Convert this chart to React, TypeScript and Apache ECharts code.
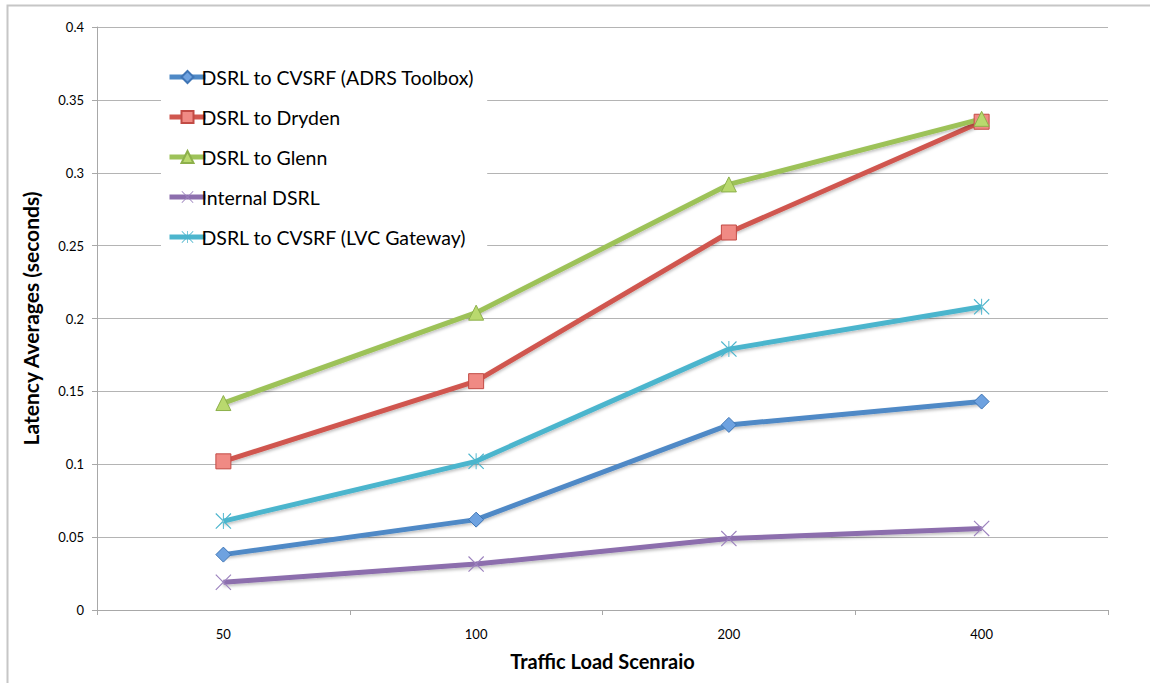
import React, { useEffect, useRef } from "react";
import * as echarts from "echarts";

const categories = ["50", "100", "200", "400"];
const seriesNames = [
  "DSRL to CVSRF (ADRS Toolbox)",
  "DSRL to Dryden",
  "DSRL to Glenn",
  "Internal DSRL",
  "DSRL to CVSRF (LVC Gateway)",
];
const adrsToolbox = [0.038, 0.062, 0.127, 0.143];
const dryden = [0.102, 0.157, 0.259, 0.335];
const glenn = [0.142, 0.204, 0.292, 0.337];
const internalDsrl = [0.019, 0.0315, 0.049, 0.056];
const lvcGateway = [0.061, 0.102, 0.179, 0.208];

const X_PATH = "path://M1,0 L10,9 L19,0 L20,1 L11,10 L20,19 L19,20 L10,11 L1,20 L0,19 L9,10 L0,1 Z";
const STAR_PATH =
  "path://M1,0 L10,9 L19,0 L20,1 L11,10 L20,19 L19,20 L10,11 L1,20 L0,19 L9,10 L0,1 Z M9.4,0 L9.4,20 L10.6,20 L10.6,0 Z";

const FONT = "Lato, 'Open Sans', sans-serif";

export default function App() {
  const ref = useRef<HTMLDivElement>(null);
  useEffect(() => {
    document.body.style.margin = "0";
    const chart = echarts.init(ref.current!, undefined, { renderer: "svg" });
    const lineShadow = {
      shadowColor: "rgba(0,0,0,0.25)",
      shadowBlur: 3,
      shadowOffsetY: 2,
    };
    const mk = (
      name: string,
      data: number[],
      color: string,
      symbol: string,
      size: number,
      fill: string,
      border: string,
      bw: number
    ) => ({
      name,
      type: "line",
      data,
      symbol,
      symbolSize: size,
      showAllSymbol: true,
      lineStyle: { color, width: 5, ...lineShadow },
      itemStyle: { color: fill, borderColor: border, borderWidth: bw },
      emphasis: { disabled: true },
      z: 3,
    });
    chart.setOption({
      animation: false,
      graphic: [
        {
          type: "rect",
          shape: { x: 7.5, y: 5.5, width: 1200, height: 800 },
          style: { fill: "none", stroke: "#C6C6C6", lineWidth: 2 },
          z: 0,
          silent: true,
        },
      ],
      grid: { left: 97, right: 42, top: 27, bottom: 73 },
      legend: {
        orient: "vertical",
        left: 161,
        top: 61,
        backgroundColor: "#fff",
        padding: [6, 12, 6, 6],
        itemGap: 20,
        itemWidth: 36,
        itemHeight: 15,
        lineStyle: { width: 5 },
        textStyle: { fontFamily: FONT, fontSize: 19.5, color: "#000", padding: [0, 0, 0, -9] },
        data: seriesNames,
        z: 5,
      },
      xAxis: {
        type: "category",
        data: categories,
        boundaryGap: true,
        name: "Traffic Load Scenraio",
        nameLocation: "middle",
        nameGap: 41,
        nameTextStyle: { fontFamily: FONT, fontSize: 20, fontWeight: "bold", color: "#000" },
        axisLine: { lineStyle: { color: "#A8A8A8", width: 1 } },
        axisTick: { show: true, alignWithLabel: false, length: 5, lineStyle: { color: "#A8A8A8" } },
        axisLabel: { fontFamily: FONT, fontSize: 13, color: "#000", margin: 17 },
        splitLine: { show: false },
      },
      yAxis: {
        type: "value",
        min: 0,
        max: 0.4,
        interval: 0.05,
        name: "Latency Averages (seconds)",
        nameLocation: "middle",
        nameGap: 56,
        nameTextStyle: { fontFamily: FONT, fontSize: 21, fontWeight: "bold", color: "#000" },
        axisLine: { show: true, lineStyle: { color: "#A8A8A8", width: 1 } },
        axisTick: { show: true, length: 5, lineStyle: { color: "#A8A8A8" } },
        axisLabel: {
          fontFamily: FONT,
          fontSize: 13,
          color: "#000",
          margin: 13,
          formatter: (v: number) => String(Math.round(v * 100) / 100),
        },
        splitLine: { show: true, lineStyle: { color: "#B4B4B4", width: 1 } },
      },
      series: [
        mk(seriesNames[0], adrsToolbox, "#4F89C6", "diamond", 15, "#6EA2E0", "#3F75B5", 1),
        mk(seriesNames[1], dryden, "#D0574F", "rect", 15, "#F08A84", "#C24B45", 1),
        mk(seriesNames[2], glenn, "#9DC259", "triangle", 15, "#B9D96E", "#8DB04B", 1),
        mk(seriesNames[3], internalDsrl, "#8C6EAD", X_PATH, 16, "#9C82BE", "#9C82BE", 0),
        mk(seriesNames[4], lvcGateway, "#4CB5CD", STAR_PATH, 16, "#4CB5CD", "#4CB5CD", 0),
      ],
    });
    return () => chart.dispose();
  }, []);
  return <div ref={ref} style={{ width: 1150, height: 683 }} />;
}
